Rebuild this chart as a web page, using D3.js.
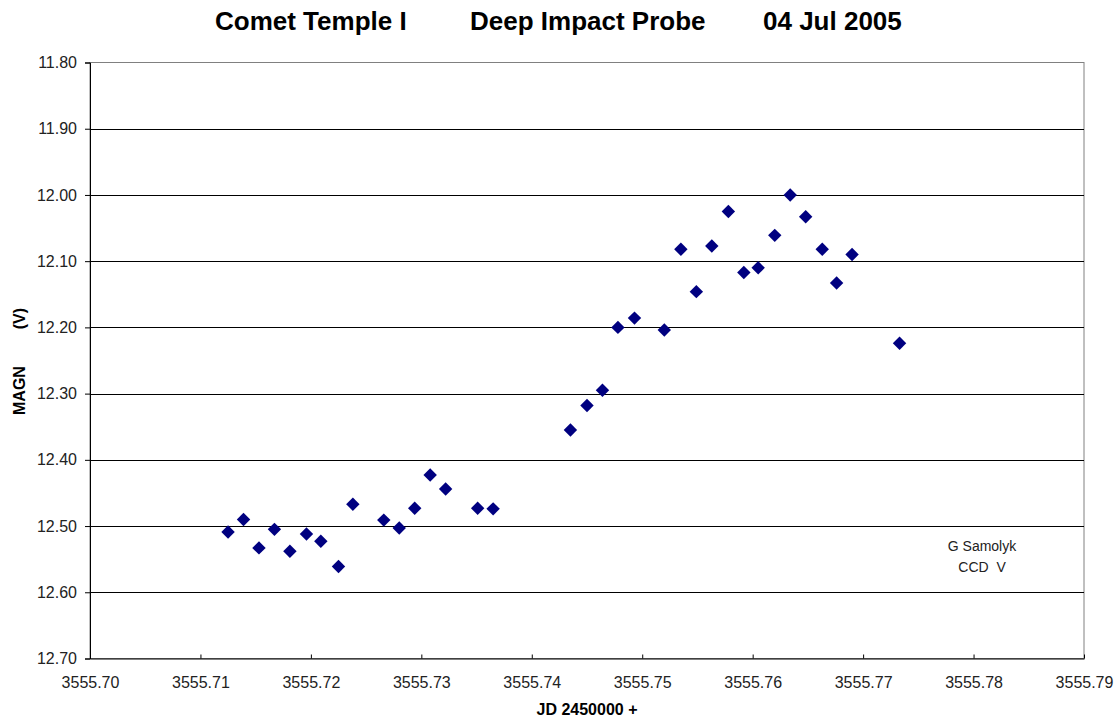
<!DOCTYPE html>
<html>
<head>
<meta charset="utf-8">
<script src="https://cdn.jsdelivr.net/npm/d3@7"></script>
<style>
  body { margin: 0; background: #fff; }
  svg { font-family: Arial, "Liberation Sans", sans-serif; }
</style>
</head>
<body>
<svg id="chart" width="1115" height="721"></svg>
<script>
// JD - 2450000
const jd = [
    3555.7125, 3555.7139, 3555.7153, 3555.7167, 3555.7181, 3555.7196, 3555.7209, 3555.7225,
    3555.7238, 3555.7266, 3555.7280, 3555.7294, 3555.7308, 3555.7322, 3555.7351, 3555.7365,
    3555.7435, 3555.7450, 3555.7464, 3555.7478, 3555.7493, 3555.7520, 3555.7535, 3555.7549,
    3555.7563, 3555.7578, 3555.7592, 3555.7605, 3555.7620, 3555.7634, 3555.7648, 3555.7663,
    3555.7676, 3555.7690, 3555.7733
];
const magn = [
    12.509, 12.490, 12.533, 12.505, 12.538, 12.512, 12.523, 12.561,
    12.467, 12.491, 12.503, 12.473, 12.423, 12.444, 12.473, 12.474,
    12.355, 12.318, 12.295, 12.200, 12.186, 12.204, 12.082, 12.146,
    12.077, 12.025, 12.117, 12.110, 12.061, 12.000, 12.033, 12.082,
    12.133, 12.090, 12.224
];
const xTicks = [3555.70, 3555.71, 3555.72, 3555.73, 3555.74, 3555.75, 3555.76, 3555.77, 3555.78, 3555.79];
const yTicks = [11.80, 11.90, 12.00, 12.10, 12.20, 12.30, 12.40, 12.50, 12.60, 12.70];
const titleParts = ['Comet Temple I', 'Deep Impact Probe', '04 Jul 2005'];

const plotLeft = 90, plotRight = 1084, plotTop = 62.5, plotBottom = 658.5;

const svg = d3.select('#chart');

const x = d3.scaleLinear().domain([3555.70, 3555.79]).range([plotLeft, plotRight]);
const y = d3.scaleLinear().domain([11.80, 12.70]).range([plotTop, plotBottom]);

// plot frame (grey)
svg.append('rect')
    .attr('x', plotLeft).attr('y', plotTop)
    .attr('width', plotRight - plotLeft).attr('height', plotBottom - plotTop)
    .attr('fill', 'none')
    .attr('stroke', '#808080')
    .attr('stroke-width', 1);

// gridlines
svg.append('g')
    .selectAll('line')
    .data(yTicks.slice(1, -1))
    .join('line')
    .attr('x1', plotLeft).attr('x2', plotRight)
    .attr('y1', d => Math.round(y(d)) + 0.5)
    .attr('y2', d => Math.round(y(d)) + 0.5)
    .attr('stroke', '#000')
    .attr('stroke-width', 1);

// y axis
const yAxis = d3.axisLeft(y)
    .tickValues(yTicks)
    .tickFormat(d3.format('.2f'))
    .tickSize(5)
    .tickPadding(8);
svg.append('g')
    .attr('transform', `translate(${plotLeft},0)`)
    .call(yAxis)
    .call(g => g.select('.domain').attr('stroke', '#000'))
    .call(g => g.selectAll('text').attr('font-size', 16).attr('fill', '#222'));

// x axis, ticks pointing inward
const xAxis = d3.axisBottom(x)
    .tickValues(xTicks)
    .tickFormat(d3.format('.2f'))
    .tickSizeInner(-4)
    .tickSizeOuter(0)
    .tickPadding(18);
svg.append('g')
    .attr('transform', `translate(0,${plotBottom})`)
    .call(xAxis)
    .call(g => g.select('.domain').attr('stroke', '#000'))
    .call(g => g.selectAll('text').attr('font-size', 16).attr('fill', '#222'));

// points (rotated squares = diamonds)
svg.append('g')
    .selectAll('path')
    .data(jd.map((d, i) => [d, magn[i]]))
    .join('path')
    .attr('transform', d => `translate(${x(d[0])},${y(d[1])}) rotate(45)`)
    .attr('d', d3.symbol().type(d3.symbolSquare).size(90))
    .attr('fill', '#000080');

// title in three parts
svg.append('g')
    .attr('font-size', 26)
    .attr('font-weight', 'bold')
    .selectAll('text')
    .data(titleParts)
    .join('text')
    .attr('x', (d, i) => [215, 470, 763][i])
    .attr('y', 30)
    .text(d => d);

// axis titles
svg.append('text')
    .attr('x', 587).attr('y', 715)
    .attr('text-anchor', 'middle')
    .attr('font-size', 16)
    .attr('font-weight', 'bold')
    .text('JD 2450000 +');

svg.append('text')
    .attr('transform', 'translate(25,415) rotate(-90)')
    .attr('font-size', 16)
    .attr('font-weight', 'bold')
    .text('MAGN');
svg.append('text')
    .attr('transform', 'translate(25,308) rotate(-90)')
    .attr('text-anchor', 'end')
    .attr('font-size', 16)
    .attr('font-weight', 'bold')
    .text('(V)');

// observer note
const note = svg.append('g')
    .attr('font-size', 14)
    .attr('fill', '#222')
    .attr('text-anchor', 'middle');
note.append('text').attr('x', 982).attr('y', 551).text('G Samolyk');
note.append('text').attr('x', 982).attr('y', 572).style('white-space', 'pre').text('CCD  V');
</script>
</body>
</html>
